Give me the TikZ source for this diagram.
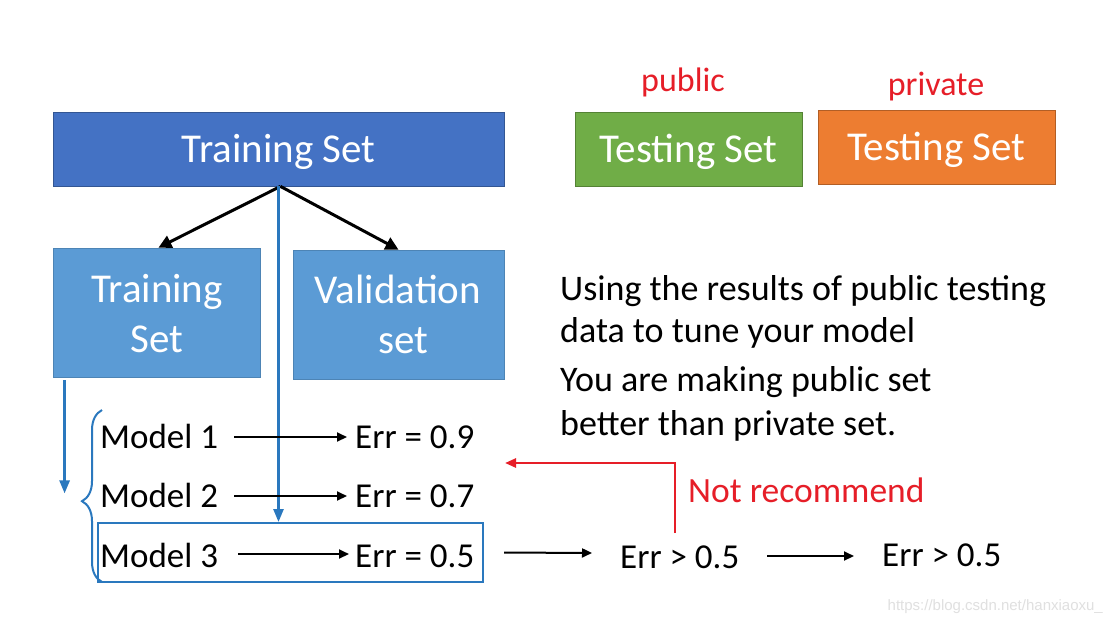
\documentclass[tikz,border=0pt]{standalone}
\usepackage{fontspec}
\setmainfont{Carlito}
\newfontfamily\wmfont{Liberation Sans}
\usetikzlibrary{arrows.meta,decorations.pathreplacing,calc}
\definecolor{topblue}{HTML}{4472C4}
\definecolor{subblue}{HTML}{5B9BD5}
\definecolor{tgreen}{HTML}{70AD47}
\definecolor{torange}{HTML}{ED7D31}
\definecolor{lineblue}{HTML}{2A78BE}
\definecolor{nred}{HTML}{E61E28}
\begin{document}
\begin{tikzpicture}[x=1pt,y=-1pt,
  colbox/.style={rectangle, inner sep=0pt, line width=0.8pt, fill=#1, draw=#1!75!black,
    text=white, font=\fontsize{41}{48}\selectfont, text height=26pt, text depth=0pt},
  boxtxt/.style={inner sep=0pt, text=white, font=\fontsize{41}{48}\selectfont, anchor=base},
  txt/.style={inner sep=0pt, font=\fontsize{35}{42}\selectfont, anchor=base west},
  ptxt/.style={inner sep=0pt, font=\fontsize{36}{42}\selectfont, anchor=base west},
  redtxt/.style={inner sep=0pt, text=nred, font=\fontsize{34}{40}\selectfont, anchor=base},
  blkarrow/.style={-{Triangle[length=10pt,width=9pt]}, line width=2pt},
  splitarrow/.style={-{Triangle[length=13pt,width=13pt]}, line width=3pt},
  bluearrow/.style={draw=lineblue, -{Triangle[length=13pt,width=10pt]}, line width=2.6pt},
  redarrow/.style={draw=nred, -{Triangle[length=11pt,width=9pt]}, line width=2.4pt}
]
\useasboundingbox (0,0) rectangle (1113,622);
\fill[white] (0,0) rectangle (1113,622);

% top boxes
\node[colbox=topblue, minimum width=451pt, minimum height=74pt] (top) at (278.5,149) {Training Set};
\node[colbox=tgreen, minimum width=227pt, minimum height=74pt] (green) at (688.5,149) {Testing Set};
\node[colbox=torange, minimum width=237pt, minimum height=74pt] (orange) at (936.5,147) {Testing Set};
\node[redtxt] (public) at (683,91) {public};
\node[redtxt] (private) at (936,95) {private};

% sub boxes
\node[rectangle, fill=subblue, draw=subblue!85!black, line width=0.8pt, minimum width=207pt, minimum height=129pt] (sub) at (156.5,312.5) {};
\node[rectangle, fill=subblue, draw=subblue!85!black, line width=0.8pt, minimum width=211pt, minimum height=129pt] (val) at (398.5,314.5) {};
\node[boxtxt] (subl1) at (157,302) {Training};
\node[boxtxt] (subl2) at (157,352) {Set};
\node[boxtxt] (vall1) at (398,303) {Validation};
\node[boxtxt] (vall2) at (403,353) {set};

\draw[splitarrow] ([xshift=2pt]top.south) -- ([xshift=2pt]sub.north);
\draw[splitarrow] ([xshift=2pt]top.south) -- (val.north);

% model 3 box
\node[rectangle, draw=lineblue, line width=2pt, minimum width=385pt, minimum height=59pt] (m3box) at (290.5,552.5) {};

% blue lines
\draw[bluearrow] (top.south) -- (top.south |- m3box.north);
\draw[bluearrow] ([xshift=12pt,yshift=-3pt]sub.south west) -- ++(0,113);
\draw[lineblue, line width=2pt, decorate, decoration={brace, amplitude=20pt, aspect=0.47}] (102,582) -- (102,410);

% models
\node[txt] (m1) at (100,448) {Model 1};
\node[txt] (m2) at (100,507) {Model 2};
\node[txt] (m3) at (100,567) {Model 3};
\node[txt] (e1) at (355,448) {Err = 0.9};
\node[txt] (e2) at (355,507) {Err = 0.7};
\node[txt] (e3) at (355,567) {Err = 0.5};
\draw[blkarrow] ($(m1.base east)+(16,-11)$) -- ($(e1.base west)+(-8,-11)$);
\draw[blkarrow] ($(m2.base east)+(16,-11)$) -- ($(e2.base west)+(-8,-11)$);
\draw[blkarrow] ($(m3.base east)+(20,-13)$) -- ($(e3.base west)+(-6,-13)$);

% further err
\node[txt] (g1) at (620,568) {Err > 0.5};
\node[txt] (g2) at (882,566) {Err > 0.5};
\draw[blkarrow] ($(m3box.east)+(20,0)$) -- ($(g1.base west)+(-28,-15)$);
\draw[blkarrow] ($(g1.base east)+(28,-12)$) -- ($(g2.base west)+(-28,-10)$);

% not recommend
\coordinate (corner) at (675,463);
\coordinate (redend) at (505,463);
\draw[redarrow] ($(g1.north west)+(55,-12)$) -- (corner) -- (redend);
\node[txt, text=nred, font=\fontsize{35.5}{42}\selectfont] (notrec) at (688,502) {Not recommend};

% right text
\node[ptxt] (p1) at (560,300) {Using the results of public testing};
\node[ptxt] (p2) at (560,342) {data to tune your model};
\node[ptxt] (p3) at (560,391) {You are making public set};
\node[ptxt] (p4) at (560,435) {better than private set.};

% watermark
\node[inner sep=0pt, anchor=base east, text=black!12, font=\wmfont\fontsize{15}{18}\selectfont] (wm) at (1103,610) {https://blog.csdn.net/hanxiaoxu\_};
\end{tikzpicture}
\end{document}
